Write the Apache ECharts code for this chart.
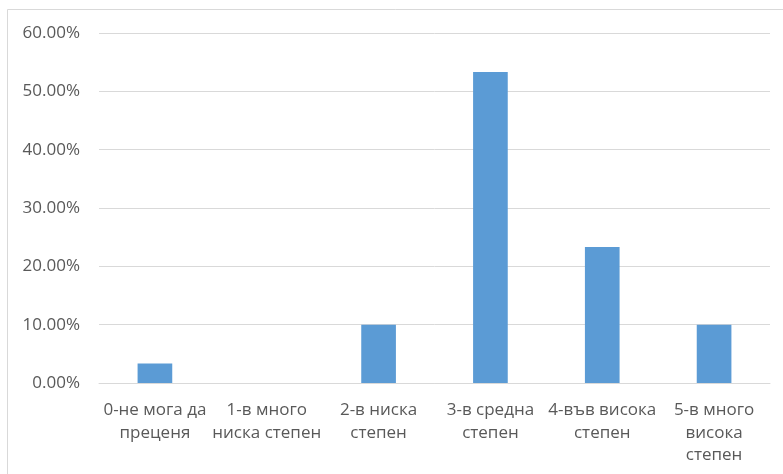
<!DOCTYPE html>
<html>
<head>
<meta charset="utf-8">
<script src="https://cdn.jsdelivr.net/npm/echarts@6/dist/echarts.min.js"></script>
<style>html,body{margin:0;padding:0;background:#fff;}#c{width:783px;height:474px;}</style>
</head>
<body>
<div id="c"></div>
<script>
const categories = ["0-не мога да\nпреценя", "1-в много\nниска степен", "2-в ниска\nстепен", "3-в средна\nстепен", "4-във висока\nстепен", "5-в много\nвисока\nстепен"];
const values = [3.33, 0, 10, 53.33, 23.33, 10];
const yTicks = { min: 0, max: 60, interval: 10 };

const chart = echarts.init(document.getElementById('c'), null, { renderer: 'canvas' });
chart.setOption({
  animation: false,
  backgroundColor: '#fff',
  graphic: [{
    type: 'rect', silent: true,
    shape: { x: 7.5, y: 9.5, width: 800, height: 500 },
    style: { fill: 'none', stroke: '#d9d9d9', lineWidth: 1 }
  }],
  grid: { left: 99, right: 13, top: 33, bottom: 91 },
  xAxis: {
    type: 'category',
    data: categories,
    axisLine: { show: true, lineStyle: { color: '#d9d9d9', width: 1 } },
    axisTick: { show: false },
    axisLabel: {
      color: '#595959', fontFamily: 'Open Sans', fontSize: 17,
      lineHeight: 22.5, margin: 16, interval: 0
    }
  },
  yAxis: {
    type: 'value',
    min: yTicks.min, max: yTicks.max, interval: yTicks.interval,
    axisLine: { show: false },
    axisTick: { show: false },
    splitLine: { lineStyle: { color: '#d9d9d9', width: 1 } },
    axisLabel: {
      color: '#595959', fontFamily: 'Open Sans', fontSize: 17, margin: 19,
      formatter: v => v.toFixed(2) + '%'
    }
  },
  series: [{
    type: 'bar',
    data: values,
    barWidth: '31%',
    itemStyle: { color: '#5b9bd5' }
  }]
});
</script>
</body>
</html>
